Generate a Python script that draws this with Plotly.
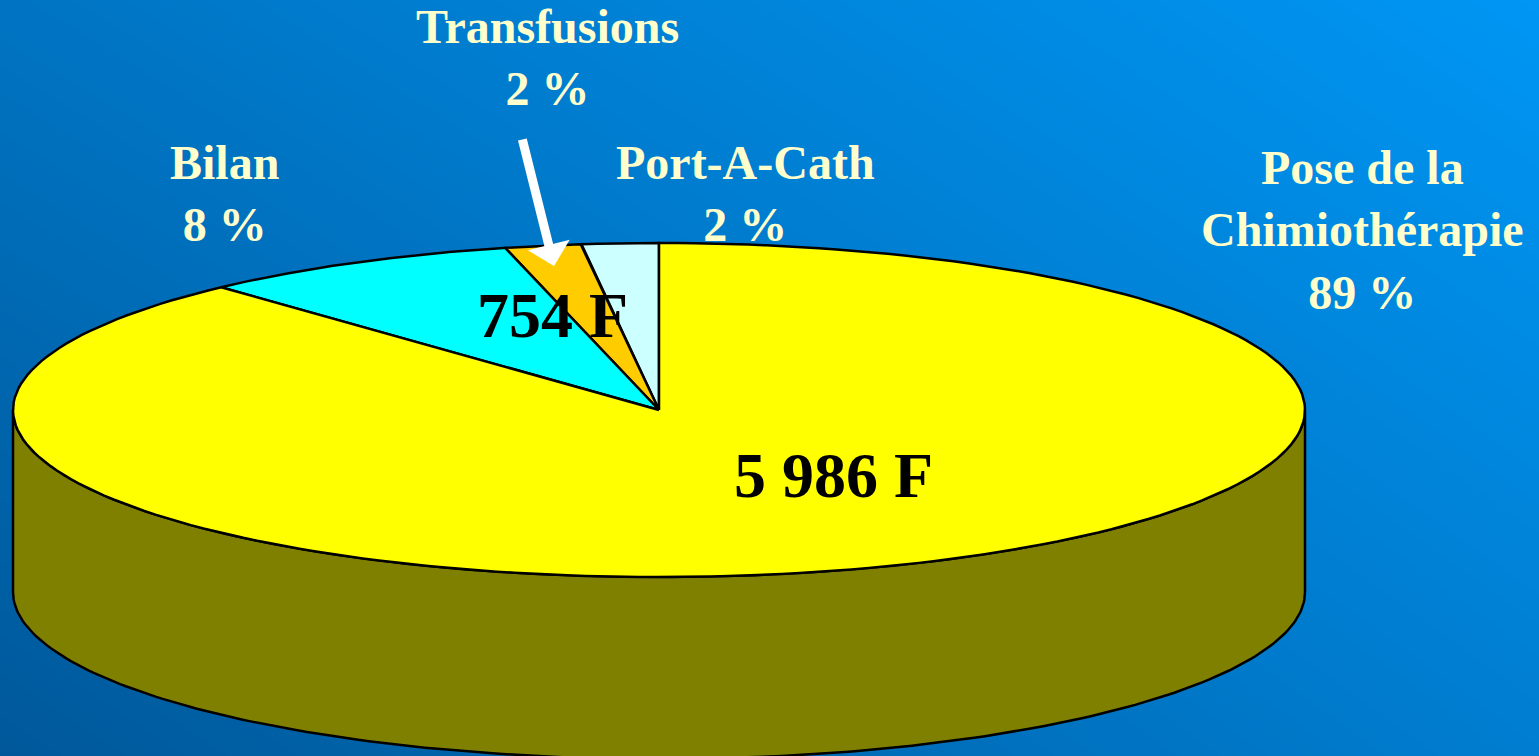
import numpy as np
import plotly.graph_objects as go

# ---- data ----
categories = ["Port-A-Cath", "Transfusions", "Bilan", "Pose de la<br>Chimiothérapie"]
values = [130, 130, 545, 5986]
pct_labels = ["2 %", "2 %", "8 %", "89 %"]
group_labels = ["754 F", "5 986 F"]

top_colors = ["#ccffff", "#ffcc00", "#00ffff", "#ffff00"]
side_colors = ["#668080", "#806600", "#008080", "#808000"]

# ---- layout of the drawing (pixels) ----
W, H = 1539, 756
CX, CY, RX, RY, DEPTH = 659, 410, 646, 167, 182
SERIF = "Liberation Serif, Times New Roman, serif"

fig = go.Figure()

# background gradient (dark bottom-left -> bright top-right)
gx = np.linspace(0, W, 40)
gy = np.linspace(0, H, 40)
U, V = np.meshgrid(gx / W, 1 - gy / H)
S = 0.45 * V + 0.6 * U - 0.05 * U * V
fig.add_trace(go.Heatmap(x=gx, y=gy, z=S, zsmooth="best", showscale=False,
                         colorscale=[[0, "#00589a"], [1, "#0096f4"]],
                         hoverinfo="skip"))

total = float(sum(values))
edges = 90 + 360 * np.concatenate([[0], np.cumsum(values) / total])


def arc(a, b, dy=0.0, n=200):
    t = np.radians(np.linspace(a, b, n))
    return CX + RX * np.cos(t), CY - RY * np.sin(t) + dy


# visible (front) sides
for i in range(len(values)):
    a, b = edges[i], edges[i + 1]
    for lo, hi in [(180, 360), (540, 720)]:
        s0, s1 = max(a, lo), min(b, hi)
        if s1 > s0:
            xt, yt = arc(s0, s1)
            xb, yb = arc(s1, s0, DEPTH)
            fig.add_trace(go.Scatter(
                x=np.concatenate([xt, xb, xt[:1]]),
                y=np.concatenate([yt, yb, yt[:1]]),
                mode="lines", fill="toself", fillcolor=side_colors[i],
                line=dict(color="black", width=2.5), hoverinfo="skip",
                showlegend=False))

# top faces
for i in range(len(values)):
    xa, ya = arc(edges[i], edges[i + 1])
    fig.add_trace(go.Scatter(
        x=np.concatenate([[CX], xa, [CX]]),
        y=np.concatenate([[CY], ya, [CY]]),
        mode="lines", fill="toself", fillcolor=top_colors[i],
        line=dict(color="black", width=2.5), hoverinfo="skip",
        showlegend=False, name=categories[i]))

# labels
label_font = dict(family=SERIF, size=48, color="#ffffcc", weight="bold")
label_pos = [(745, 193), (547, 57), (224, 193), (1362, 230)]
for i in range(len(values)):
    fig.add_annotation(x=label_pos[i][0], y=label_pos[i][1],
                       text=f"{categories[i]}<br>{pct_labels[i]}",
                       showarrow=False, font=label_font,
                       xanchor="center", yanchor="middle")

val_font = dict(family=SERIF, size=64, color="black", weight="bold")
fig.add_annotation(x=552, y=315, text=group_labels[0], showarrow=False,
                   font=val_font, xanchor="center", yanchor="middle")
fig.add_annotation(x=833, y=475, text=group_labels[1], showarrow=False,
                   font=val_font, xanchor="center", yanchor="middle")

# arrow to the Transfusions slice
fig.add_annotation(x=554, y=266, ax=522, ay=138, axref="x", ayref="y",
                   text="", showarrow=True, arrowhead=1, arrowsize=0.8,
                   arrowwidth=9, arrowcolor="white")

fig.update_xaxes(range=[0, W], visible=False, fixedrange=True)
fig.update_yaxes(range=[H, 0], visible=False, fixedrange=True)
fig.update_layout(width=W, height=H, margin=dict(l=0, r=0, t=0, b=0),
                  paper_bgcolor="#0077c8", plot_bgcolor="rgba(0,0,0,0)",
                  showlegend=False)

fig.write_html("out.html")
